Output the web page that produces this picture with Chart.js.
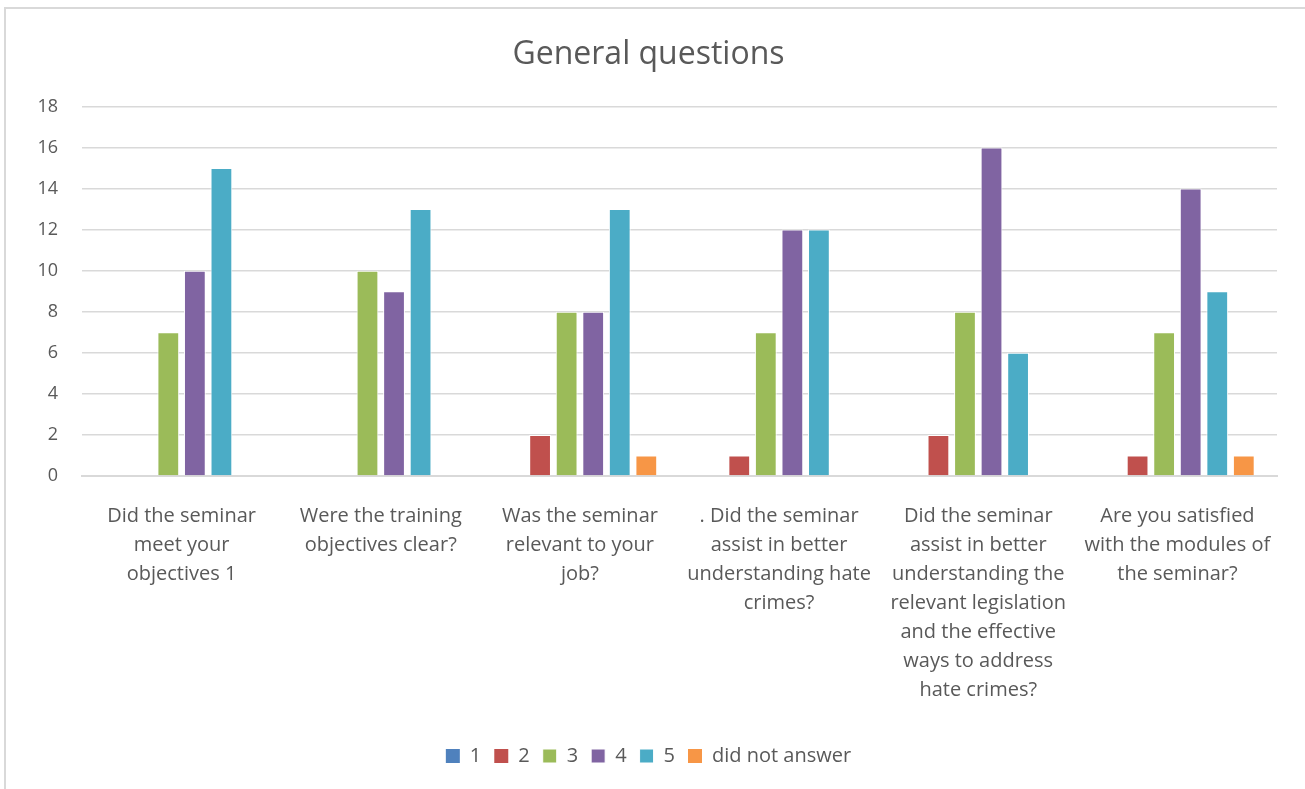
<!DOCTYPE html>
<html>
<head>
<meta charset="utf-8">
<script src="https://cdn.jsdelivr.net/npm/chart.js@4/dist/chart.umd.min.js"></script>
<style>
  html, body { margin: 0; padding: 0; background: #fff; overflow: hidden; }
  #frame {
    position: absolute; left: 4px; top: 7px; width: 1400px; height: 900px;
    border: 2px solid #d9d9d9; box-sizing: border-box;
  }
  #wrap { position: absolute; left: 0; top: 0; width: 1305px; height: 789px; }
</style>
</head>
<body>
<div id="frame"></div>
<div id="wrap"><canvas id="chart"></canvas></div>
<script>
// survey answers per question, one array per rating
const questions = [
  ["Did the seminar", "meet your", "objectives 1"],
  ["Were the training", "objectives clear?"],
  ["Was the seminar", "relevant to your", "job?"],
  [". Did the seminar", "assist in better", "understanding hate", "crimes?"],
  ["Did the seminar", "assist in better", "understanding the", "relevant legislation", "and the effective", "ways to address", "hate crimes?"],
  ["Are you satisfied", "with the modules of", "the seminar?"]
];
const rating1 = [0, 0, 0, 0, 0, 0];
const rating2 = [0, 0, 2, 1, 2, 1];
const rating3 = [7, 10, 8, 7, 8, 7];
const rating4 = [10, 9, 8, 12, 16, 14];
const rating5 = [15, 13, 13, 12, 6, 9];
const noAnswer = [0, 0, 1, 0, 0, 1];
const yTicks = [0, 2, 4, 6, 8, 10, 12, 14, 16, 18];

const FONT = "'Open Sans', Lato, sans-serif";
const GREY = '#595959';

function series(label, data, color) {
  return {
    label: label,
    data: data,
    backgroundColor: color,
    borderColor: '#ffffff',
    borderWidth: c => (c.raw ? 1 : 0),
    borderSkipped: 'bottom',
    categoryPercentage: 0.8,
    barPercentage: 0.82
  };
}

new Chart(document.getElementById('chart'), {
  type: 'bar',
  data: {
    labels: questions,
    datasets: [
      series('1', rating1, '#4f81bd'),
      series('2', rating2, '#c0504d'),
      series('3', rating3, '#9bbb59'),
      series('4', rating4, '#8064a2'),
      series('5', rating5, '#4bacc6'),
      series('did not answer', noAnswer, '#f79646')
    ]
  },
  options: {
    responsive: true,
    maintainAspectRatio: false,
    animation: false,
    layout: { padding: { top: 9, left: 20, right: 28, bottom: 13 } },
    plugins: {
      title: {
        display: true,
        text: 'General questions',
        color: GREY,
        font: { family: FONT, size: 32, weight: 'normal' },
        padding: { top: 27, bottom: 32 }
      },
      legend: {
        position: 'bottom',
        labels: {
          color: GREY,
          font: { family: FONT, size: 20 },
          boxWidth: 14,
          boxHeight: 14,
          padding: 13
        }
      },
      tooltip: { enabled: false }
    },
    scales: {
      x: {
        grid: { display: false },
        border: { color: '#d9d9d9', width: 2 },
        ticks: {
          color: GREY,
          font: { family: FONT, size: 20, lineHeight: 1.45 },
          autoSkip: false,
          maxRotation: 0,
          padding: 18
        },
        afterFit: s => { s.height = 257; }
      },
      y: {
        min: 0,
        max: 18,
        afterBuildTicks: s => { s.ticks = yTicks.map(v => ({ value: v })); },
        grid: { color: '#d9d9d9', lineWidth: 1.5, drawTicks: false },
        border: { display: false },
        ticks: {
          color: GREY,
          font: { family: FONT, size: 18 },
          padding: 24
        },
        afterFit: s => { s.width = 62; }
      }
    }
  }
});
</script>
</body>
</html>
